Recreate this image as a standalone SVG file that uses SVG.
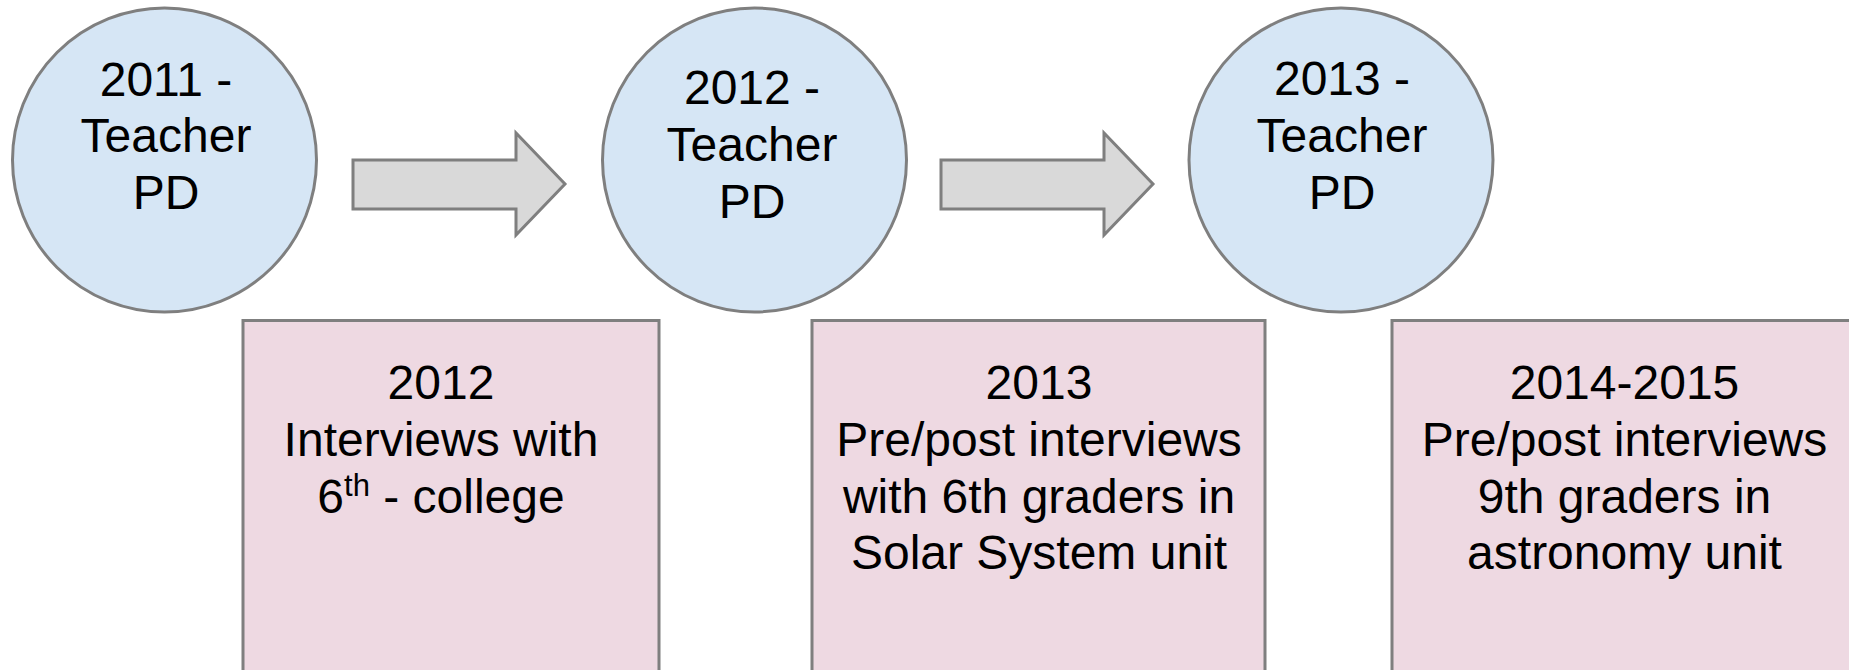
<svg xmlns="http://www.w3.org/2000/svg" width="1849" height="670" viewBox="0 0 1849 670">
<style>
.pd{fill:#d6e6f5;stroke:#7f7f7f;stroke-width:3}
.bx{fill:#eed9e2;stroke:#7f7f7f;stroke-width:3}
.ar{fill:#d9d9d9;stroke:#7f7f7f;stroke-width:3;stroke-linejoin:miter}
text{font-family:"Liberation Sans",Arial,sans-serif;font-size:48px;fill:#000;text-anchor:middle}
</style>
<rect width="1849" height="670" fill="#fff"/>
<g id="connectors">
<path class="ar" d="M353,160 H516 V133 L565,184 L516,235 V209 H353 Z"/>
<path class="ar" d="M941,160 H1104 V133 L1153,184 L1104,235 V209 H941 Z"/>
</g>
<g id="pd2011">
<circle class="pd" cx="164.5" cy="160" r="152"/>
<text x="166" y="96">2011 -</text>
<text x="166" y="152">Teacher</text>
<text x="166" y="209">PD</text>
</g>
<g id="pd2012">
<circle class="pd" cx="754.5" cy="160" r="152"/>
<text x="752" y="104">2012 -</text>
<text x="752" y="161">Teacher</text>
<text x="752" y="218">PD</text>
</g>
<g id="pd2013">
<circle class="pd" cx="1341" cy="160" r="152"/>
<text x="1342" y="95">2013 -</text>
<text x="1342" y="152">Teacher</text>
<text x="1342" y="209">PD</text>
</g>
<g id="int2012">
<rect class="bx" x="243" y="320.5" width="416" height="370"/>
<text x="441" y="399">2012</text>
<text x="441" y="456">Interviews with</text>
<text x="441" y="513">6<tspan font-size="31" dy="-17">th</tspan><tspan dy="17"> - college</tspan></text>
</g>
<g id="int2013">
<rect class="bx" x="812" y="320.5" width="453" height="370"/>
<text x="1039" y="399">2013</text>
<text x="1039" y="456">Pre/post interviews</text>
<text x="1039" y="513">with 6th graders in</text>
<text x="1039" y="569">Solar System unit</text>
</g>
<g id="int2014">
<rect class="bx" x="1392" y="320.5" width="470" height="370"/>
<text x="1624.5" y="399">2014-2015</text>
<text x="1624.5" y="456">Pre/post interviews</text>
<text x="1624.5" y="513">9th graders in</text>
<text x="1624.5" y="569">astronomy unit</text>
</g>
</svg>
